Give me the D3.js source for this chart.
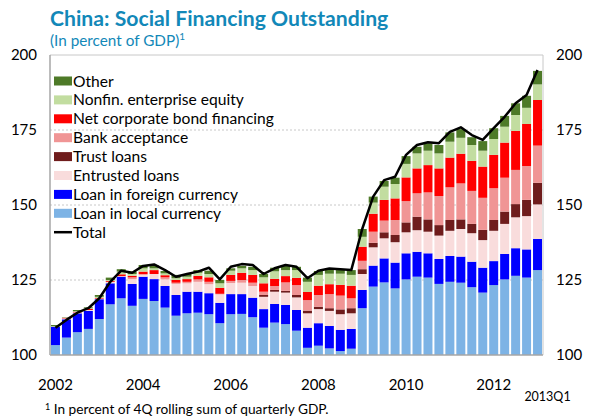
<!DOCTYPE html>
<html>
<head>
<meta charset="utf-8">
<script src="https://cdn.jsdelivr.net/npm/d3@7"></script>
<style>
  body { margin: 0; background: #fff; }
  svg text { font-family: Lato, "Open Sans", sans-serif; }
</style>
</head>
<body>
<div class="chart"></div>
<script>
const quarters = [
  "2002Q1","2002Q2","2002Q3","2002Q4","2003Q1","2003Q2","2003Q3","2003Q4",
  "2004Q1","2004Q2","2004Q3","2004Q4","2005Q1","2005Q2","2005Q3","2005Q4",
  "2006Q1","2006Q2","2006Q3","2006Q4","2007Q1","2007Q2","2007Q3","2007Q4",
  "2008Q1","2008Q2","2008Q3","2008Q4","2009Q1","2009Q2","2009Q3","2009Q4",
  "2010Q1","2010Q2","2010Q3","2010Q4","2011Q1","2011Q2","2011Q3","2011Q4",
  "2012Q1","2012Q2","2012Q3","2012Q4","2013Q1"];

const localLoans = [103.3,105.8,107.6,108.7,112.0,116.9,118.9,116.4,118.7,118.0,115.8,113.1,113.9,114.1,113.6,110.6,
  113.6,113.7,112.6,109.1,110.8,110.3,108.1,102.4,103.1,102.2,101.3,102.1,115.6,122.8,124.2,122.2,
  125.2,126.1,125.8,123.7,124.4,124.1,122.6,120.8,123.3,125.2,126.4,125.8,128.3];
const foreignLoans = [6.1,6.1,6.3,6.0,6.6,7.0,7.2,7.3,7.4,7.3,7.2,6.9,7.2,7.0,7.0,6.8,
  6.7,6.6,6.5,6.2,6.2,6.4,6.9,6.7,7.5,7.5,7.1,6.6,6.1,7.0,8.0,8.6,
  8.7,8.3,8.1,8.3,8.6,8.7,8.5,8.3,8.0,8.5,9.2,9.4,10.4];
const entrusted = [0,0.3,0.3,0.3,0.2,0.5,0.2,1.6,0.8,1.7,2.2,3.7,2.8,3.3,3.0,2.8,
  3.7,3.8,3.9,4.1,4.1,4.1,4.2,4.8,4.7,5.0,5.2,5.2,5.3,6.1,6.7,6.8,
  7.0,7.2,7.2,7.8,8.4,9.2,9.5,9.2,10.1,10.0,10.3,11.1,11.5];
const trust = [0,0,0,0,0,0,0,0,0,0,0,0,0,0,0,0,
  0,0,0,0.6,0.6,0.6,0.8,0.9,0.8,0.9,1.6,1.7,1.6,1.5,2.0,2.4,
  3.3,4.5,4.1,3.5,3.6,3.2,3.1,3.4,3.6,4.1,4.4,5.4,7.2];
const bankAcceptance = [0,0,0,0,0,0,0,0.6,0,0,0.7,0.4,0.5,0.8,0.8,0.2,
  0.7,0.9,1.1,1.1,1.3,2.8,3.3,3.5,3.9,4.7,4.6,3.3,2.8,3.7,3.9,5.0,
  7.1,7.8,9.0,9.7,10.9,12.0,11.0,10.7,10.6,11.3,11.4,11.3,12.4];
const bonds = [0,0.2,0.2,0.4,0.2,0.3,0.6,0.5,0.9,1.3,0.7,0.9,0.9,1.2,1.5,2.0,
  2.0,2.4,2.6,2.8,2.4,2.1,2.4,2.7,3.1,3.3,3.6,4.2,4.7,6.0,6.9,7.2,
  7.9,8.3,9.1,9.2,9.9,9.9,10.0,10.4,11.1,11.7,13.0,14.0,15.2];
const equity = [0.2,0.1,0.2,0.2,0.4,0.3,0.9,0.6,1.1,0.6,0.6,0.6,0.8,1.0,1.1,1.5,
  1.4,1.5,1.6,2.0,2.5,2.0,2.6,3.4,3.6,3.5,3.7,3.6,3.3,3.7,4.4,4.8,
  4.5,5.0,4.8,5.0,5.3,5.3,5.3,5.3,5.3,5.3,5.3,5.4,5.2];
const other = [0.4,0.1,0.4,0.3,0.6,0.8,0.8,0.8,1.1,1.1,0.8,1.1,0.9,0.9,1.1,1.1,
  0.8,0.8,1.1,1.1,1.2,1.4,1.1,1.4,1.3,1.5,1.3,1.6,2.6,2.0,1.9,2.1,
  2.6,2.2,2.5,2.8,3.1,2.9,2.6,3.2,3.6,3.6,3.9,4.0,4.5];
const total = [109.1,111.7,114.1,115.6,118.9,124.4,128.1,127.4,129.7,130.2,128.3,126.1,127.0,127.8,129.1,125.2,
  129.4,130.3,130.0,127.0,128.9,130.0,129.4,125.6,128.1,128.8,128.6,128.3,142.0,152.8,158.3,159.4,
  166.7,170.0,170.9,170.6,174.4,175.9,173.3,171.7,175.6,179.4,183.9,186.7,195.0];

const seriesNames = ["Loan in local currency","Loan in foreign currency","Entrusted loans","Trust loans",
  "Bank acceptance","Net corporate bond financing","Nonfin. enterprise equity","Other"];
const seriesValues = [localLoans, foreignLoans, entrusted, trust, bankAcceptance, bonds, equity, other];
const seriesColors = ["#7DB3E5","#0000FF","#F9DCDC","#6F1C1C","#F09595","#FF0000","#C2DDA0","#4E7A28"];

const yTicks = [100, 125, 150, 175, 200];
const xTickLabels = ["2002","2004","2006","2008","2010","2012"];

const width = 590, height = 420;
const margin = ({top: 55, right: 47, bottom: 65, left: 50});

const svg = d3.select(".chart").append("svg")
    .attr("width", width)
    .attr("height", height);

const rows = quarters.map((q, i) => {
    const r = {quarter: q};
    seriesNames.forEach((name, j) => r[name] = seriesValues[j][i]);
    return r;
});
const stacked = d3.stack().keys(seriesNames)(rows);

const x = d3.scaleBand()
    .domain(quarters)
    .range([margin.left, width - margin.right])
    .paddingInner(0.18)
    .paddingOuter(0.09);

const y = d3.scaleLinear()
    .domain([100, 200])
    .range([height - margin.bottom, margin.top])
    .clamp(true);

// grid lines
svg.append("g")
    .selectAll("line")
    .data(yTicks.filter(d => d > 100 && d < 200))
    .enter()
    .append("line")
    .attr("x1", margin.left)
    .attr("x2", width - margin.right)
    .attr("y1", d => y(d))
    .attr("y2", d => y(d))
    .attr("stroke", "#c8c8c8")
    .attr("stroke-dasharray", "2,2");

// frame top / right
svg.append("path")
    .attr("d", `M${margin.left},${y(200)}H${width - margin.right}V${y(100)}`)
    .attr("fill", "none")
    .attr("stroke", "#c8c8c8");

// bars
svg.append("g")
    .selectAll("g")
    .data(stacked)
    .enter()
    .append("g")
    .attr("fill", (d, i) => seriesColors[i])
    .selectAll("rect")
    .data(d => d)
    .enter()
    .append("rect")
    .attr("x", d => x(d.data.quarter))
    .attr("width", x.bandwidth())
    .attr("y", d => y(d[1]))
    .attr("height", d => y(d[0]) - y(d[1]));

// total line
const line = d3.line()
    .x((d, i) => x(quarters[i]) + x.bandwidth() / 2)
    .y(d => y(d));

svg.append("path")
    .datum(total)
    .attr("d", line)
    .attr("fill", "none")
    .attr("stroke", "#000")
    .attr("stroke-width", 2.5)
    .attr("stroke-linejoin", "round");

// axes lines
svg.append("line")
    .attr("x1", margin.left).attr("x2", margin.left)
    .attr("y1", y(200)).attr("y2", y(100))
    .attr("stroke", "#a6a6a6").attr("stroke-width", 1.5);
svg.append("line")
    .attr("x1", margin.left).attr("x2", width - margin.right)
    .attr("y1", y(100)).attr("y2", y(100))
    .attr("stroke", "#a6a6a6").attr("stroke-width", 1.5);

// y tick labels, both sides
svg.append("g")
    .selectAll("text")
    .data(yTicks)
    .enter()
    .append("text")
    .attr("x", 37)
    .attr("y", d => y(d) + 5)
    .attr("text-anchor", "end")
    .attr("font-size", 15)
    .text(d => d);

svg.append("g")
    .selectAll("text")
    .data(yTicks)
    .enter()
    .append("text")
    .attr("x", 556)
    .attr("y", d => y(d) + 5)
    .attr("font-size", 15)
    .text(d => d);

// x tick labels
svg.append("g")
    .selectAll("text")
    .data(xTickLabels)
    .enter()
    .append("text")
    .attr("x", d => x(d + "Q1") + x.bandwidth() / 2)
    .attr("y", 390)
    .attr("text-anchor", "middle")
    .attr("font-size", 15)
    .text(d => d);

svg.append("text")
    .attr("x", x("2013Q1") + x.bandwidth() / 2 + 10)
    .attr("y", 401)
    .attr("text-anchor", "middle")
    .attr("font-size", 12.5)
    .text("2013Q1");

// titles
svg.append("text")
    .attr("x", 50)
    .attr("y", 26)
    .attr("font-size", 21.2)
    .attr("font-weight", "bold")
    .attr("fill", "#1288B8")
    .text("China: Social Financing Outstanding");

const sub = svg.append("text")
    .attr("x", 50)
    .attr("y", 46)
    .attr("font-size", 15.3)
    .attr("fill", "#1288B8")
    .text("(In percent of GDP)");
sub.append("tspan")
    .attr("font-size", 10)
    .attr("dy", -6)
    .text("1");

const foot = svg.append("text")
    .attr("x", 45)
    .attr("y", 414)
    .attr("font-size", 13.7);
foot.append("tspan").attr("font-size", 9).attr("dy", -4).text("1");
foot.append("tspan").attr("dy", 4).text(" In percent of 4Q rolling sum of quarterly GDP.");

// legend
const legendItems = seriesNames.map((d, i) => ({name: d, color: seriesColors[i]})).reverse();
const legend = svg.append("g");

legend.selectAll(".legend-color")
    .data(legendItems)
    .enter()
    .append("rect")
    .attr("class", "legend-color")
    .attr("x", 54)
    .attr("y", (d, i) => 76.5 + i * 18.9)
    .attr("width", 18)
    .attr("height", 9)
    .attr("fill", d => d.color);

legend.append("line")
    .attr("x1", 54).attr("x2", 72)
    .attr("y1", 76.5 + 8 * 18.9 + 4.5).attr("y2", 76.5 + 8 * 18.9 + 4.5)
    .attr("stroke", "#000").attr("stroke-width", 2.5);

legend.selectAll(".legend-text")
    .data(legendItems.map(d => d.name).concat(["Total"]))
    .enter()
    .append("text")
    .attr("class", "legend-text")
    .attr("x", 73)
    .attr("y", (d, i) => 86.5 + i * 18.9)
    .attr("font-size", 15.6)
    .text(d => d);
</script>
</body>
</html>
